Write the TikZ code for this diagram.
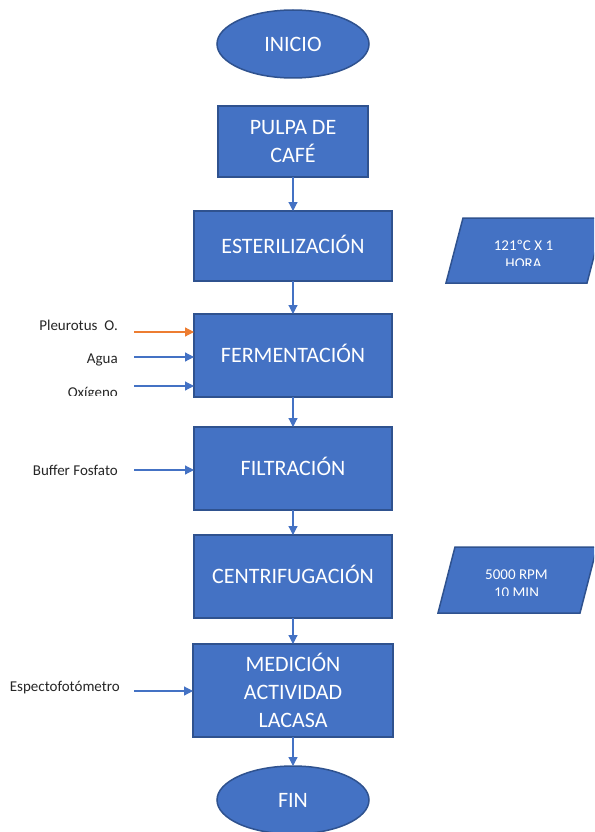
\documentclass[tikz,border=0pt]{standalone}
\usepackage{fontspec}
\setmainfont{Carlito}
\usepackage{tikz}
\usetikzlibrary{arrows.meta,shapes.geometric,positioning}

\definecolor{boxblue}{HTML}{4472C4}
\definecolor{edgeblue}{HTML}{2F528F}
\definecolor{inorange}{HTML}{ED7D31}

\begin{document}
\begin{tikzpicture}[x=1pt,y=-1pt,>={Triangle[length=9pt,width=9pt]}]
  \tikzstyle{terminal}=[ellipse,line width=1.5pt,draw=edgeblue,fill=boxblue,text=white,font=\fontsize{22}{26}\selectfont,minimum width=152pt,minimum height=68pt,inner sep=0pt,outer sep=0pt]
  \tikzstyle{process}=[rectangle,line width=1.5pt,draw=edgeblue,fill=boxblue,text=white,font=\fontsize{22}{28}\selectfont,align=center,minimum width=198pt,minimum height=83pt,inner sep=0pt,outer sep=0pt]
  \tikzstyle{oneline}=[text height=14pt,text depth=0pt]
  \tikzstyle{param}=[line width=1.5pt,draw=edgeblue,fill=boxblue]
  \tikzstyle{paramtext}=[text=white,font=\fontsize{15}{18}\selectfont,align=center,inner sep=0pt]
  \tikzstyle{feed}=[text=black!85,font=\fontsize{15}{18}\selectfont,inner sep=0pt,anchor=base east]
  \tikzstyle{flow}=[->,line width=1.2pt,boxblue]

  \clip (0,0) rectangle (594,832);
  \fill [white] (0,0) rectangle (594,832);

  \begin{scope}
    % main chain
    \node [terminal] (inicio) at (293,44) {INICIO};
    \node [process,minimum width=150pt,minimum height=71pt] (pulpa) [below = 28pt of inicio] {PULPA DE\\CAFÉ};
    \node [process,oneline,minimum height=70pt] (ester) [below = 34pt of pulpa] {ESTERILIZACIÓN};
    \node [process,oneline] (ferm) [below = 33pt of ester] {FERMENTACIÓN};
    \node [process,oneline] (filt) [below = 30pt of ferm] {FILTRACIÓN};
    \node [process,oneline] (centri) [below = 25pt of filt] {CENTRIFUGACIÓN};
    \node [process,minimum width=200pt,minimum height=93pt] (medic) [below = 26pt of centri] {MEDICIÓN\\ACTIVIDAD\\LACASA};
    \node [terminal] (fin) [below = 29pt of medic] {FIN};

    % conditions
    \filldraw [param] (446,283) -- (463,218) -- (604,218) -- (587,283) -- cycle;
    \filldraw [param] (438,613) -- (455,547) -- (597,547) -- (580,613) -- cycle;

    % inputs
    \coordinate (pleuIn) at (134,332);
    \coordinate (aguaIn) at (134,357);
    \coordinate (oxiIn) at (134,386);
    \coordinate (bufIn) at (134,470);
    \coordinate (espIn) at (134,691);
    \node [feed] (pleu) at (118,330) {Pleurotus \ O.};
    \node [feed] (agua) at (118,363) {Agua};
    \node [feed] (buf) at (118,475) {Buffer Fosfato};
    \node [feed] (esp) at (120,691) {Espectofotómetro};
  \end{scope}

  \begin{scope}
    \clip (0,370) rectangle (130,395);
    \node [feed] (oxi) at (118,397) {Oxígeno};
  \end{scope}
  \begin{scope}
    \clip (430,230) rectangle (594,265);
    \node [paramtext] (tempTxt) at (523.5,254) {121ºC X 1\\HORA};
  \end{scope}
  \begin{scope}
    \clip (430,560) rectangle (594,595);
    \node [paramtext] (rpmTxt) at (516.5,584) {5000 RPM\\10 MIN};
  \end{scope}

  \begin{scope}
    \path [flow] (pulpa) edge (ester);
    \path [flow] (ester) edge (ferm);
    \path [flow] (ferm) edge (filt);
    \path [flow] (filt) edge (centri);
    \path [flow] (centri) edge (medic);
    \path [flow] (medic) edge (fin);
    \path [flow,inorange] (pleuIn) edge (pleuIn -| ferm.west);
    \path [flow] (aguaIn) edge (aguaIn -| ferm.west);
    \path [flow] (oxiIn) edge (oxiIn -| ferm.west);
    \path [flow] (bufIn) edge (bufIn -| filt.west);
    \path [flow] (espIn) edge (espIn -| medic.west);
  \end{scope}
\end{tikzpicture}
\end{document}
